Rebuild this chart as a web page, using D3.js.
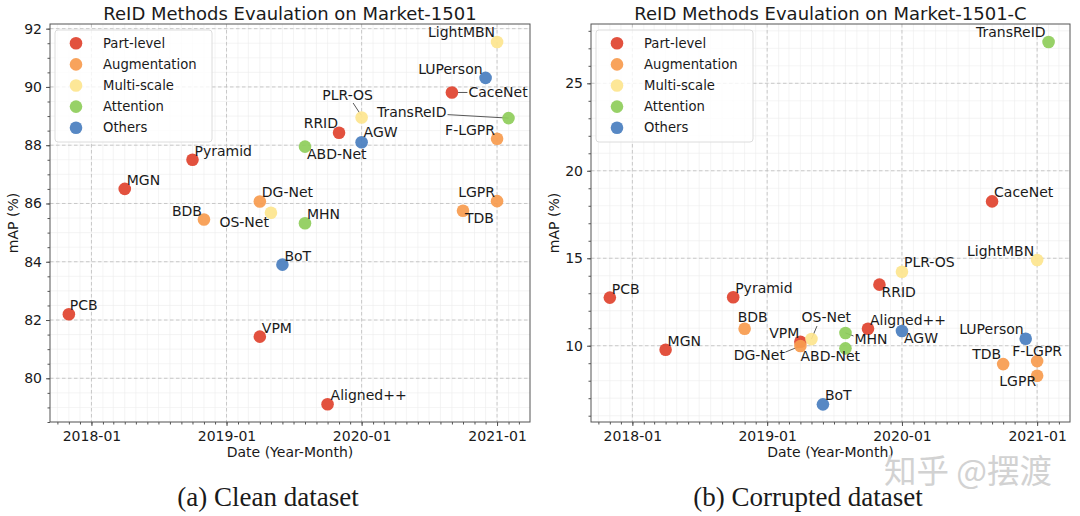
<!DOCTYPE html>
<html>
<head>
<meta charset="utf-8">
<script src="https://cdn.jsdelivr.net/npm/d3@7"></script>
<style>
  body { margin: 0; background: #fff; }
  svg text { font-family: "DejaVu Sans", sans-serif; fill: #1a1a1a; }
  .tick text { font-size: 14px; }
</style>
</head>
<body>
<svg id="chart" width="1080" height="516"></svg>
<script>
// data
const methods = ["PCB", "MGN", "Pyramid", "BDB", "VPM", "DG-Net", "OS-Net", "BoT", "MHN", "ABD-Net",
    "Aligned++", "RRID", "AGW", "PLR-OS", "CaceNet", "TDB", "LUPerson", "LightMBN", "F-LGPR", "LGPR", "TransReID"];
const releaseMonth = ["2017-11", "2018-04", "2018-10", "2018-11", "2019-04", "2019-04", "2019-05", "2019-06", "2019-08", "2019-08",
    "2019-10", "2019-11", "2020-01", "2020-01", "2020-09", "2020-10", "2020-12", "2021-01", "2021-01", "2021-01", "2021-02"];
const categories = ["Part-level", "Augmentation", "Multi-scale", "Attention", "Others"];
const methodCategory = ["Part-level", "Part-level", "Part-level", "Augmentation", "Part-level", "Augmentation", "Multi-scale", "Others", "Attention", "Attention",
    "Part-level", "Part-level", "Others", "Multi-scale", "Part-level", "Augmentation", "Others", "Multi-scale", "Augmentation", "Augmentation", "Attention"];
const mapClean = [82.2, 86.5, 87.5, 85.45, 81.43, 86.07, 85.68, 83.9, 85.32, 87.95,
    79.11, 88.43, 88.1, 88.95, 89.81, 85.75, 90.31, 91.54, 88.22, 86.08, 88.93];
const mapCorrupted = [12.75, 9.77, 12.77, 10.97, 10.23, 9.98, 10.38, 6.65, 10.73, 9.85,
    10.97, 13.49, 10.84, 14.23, 18.25, 8.95, 10.4, 14.9, 9.12, 8.28, 27.36];
const cleanTicks = [80, 82, 84, 86, 88, 90, 92];
const corruptedTicks = [10, 15, 20, 25];
const dateTicks = ["2018-01", "2019-01", "2020-01", "2021-01"];

const colors = ["#e0442f", "#f89c50", "#fde58f", "#8fcd5b", "#4a7fc0"];
const color = d3.scaleOrdinal().domain(categories).range(colors);
const parseMonth = d3.timeParse("%Y-%m");

// label placement (px offsets from the marker) : [dx, dy, anchor]
const labelsA = {
    "PCB": [1, -4, "start"], "BDB": [-2, -4, "end"], "OS-Net": [-2, 14, "end"], "ABD-Net": [2, 12.5, "start"],
    "RRID": [-1, -5, "end"], "AGW": [2, -5, "start"], "PLR-OS": [-14, -18, "middle"], "CaceNet": [16.5, 4.5, "start"],
    "TransReID": [-62, -1, "end"], "LightMBN": [-2, -5, "end"], "LUPerson": [-3, -4, "end"], "F-LGPR": [-2, -4, "end"],
    "LGPR": [-2, -4, "end"], "TDB": [2, 12, "start"], "Aligned++": [3, -4, "start"]
};
const leadersA = { "PLR-OS": [-8.5, -14.5, -1, -3], "CaceNet": [6, 0, 15.5, 0], "TransReID": [-61, -3.5, 0, 0] };
const labelsB = {
    "TransReID": [-3, -5, "end"], "LightMBN": [-3, -4, "end"], "PLR-OS": [2, -5, "start"], "RRID": [2, 12, "start"],
    "BDB": [-7, -7, "start"], "OS-Net": [-10, -17, "start"], "VPM": [-1, -3.5, "end"], "DG-Net": [-15.5, 14, "end"],
    "ABD-Net": [-45, 12.5, "start"], "MHN": [9, 11, "start"], "AGW": [2, 12.3, "start"], "LUPerson": [-2, -5, "end"],
    "TDB": [-2, -5, "end"], "F-LGPR": [-25, -5, "start"], "LGPR": [-1, 10.5, "end"]
};
const leadersB = { "OS-Net": [0, 0, 5.5, -13], "DG-Net": [-15, 6, 0, 0], "MHN": [0, 0, 8, 3] };

const svg = d3.select("#chart");

var drawPanel = function(p) {
    const top = 24, bottom = 422;
    const x = d3.scaleTime().domain([new Date(2017, 8, 11), new Date(2021, 2, 31)]).range([p.left, p.right]);
    const y = d3.scaleLinear().domain(p.yDomain).range([bottom, top]);
    const g = svg.append("g");

    // minor grid
    const months = d3.timeMonth.range(new Date(2017, 9, 1), new Date(2021, 3, 1));
    const minorY = d3.range(Math.ceil(p.yDomain[0] / p.minorStep) * p.minorStep, p.yDomain[1], p.minorStep);
    g.selectAll(".mgx").data(months).enter().append("line")
        .attr("x1", d => x(d)).attr("x2", d => x(d)).attr("y1", top).attr("y2", bottom)
        .attr("stroke", "#ececec").attr("stroke-width", 0.6);
    g.selectAll(".mgy").data(minorY).enter().append("line")
        .attr("x1", p.left).attr("x2", p.right).attr("y1", d => y(d)).attr("y2", d => y(d))
        .attr("stroke", "#ececec").attr("stroke-width", 0.6);
    // major grid
    g.selectAll(".gx").data(dateTicks.map(parseMonth)).enter().append("line")
        .attr("x1", d => x(d)).attr("x2", d => x(d)).attr("y1", top).attr("y2", bottom)
        .attr("stroke", "#bdbdbd").attr("stroke-width", 0.8).attr("stroke-dasharray", "3.5,2.5");
    g.selectAll(".gy").data(p.ticks).enter().append("line")
        .attr("x1", p.left).attr("x2", p.right).attr("y1", d => y(d)).attr("y2", d => y(d))
        .attr("stroke", "#bdbdbd").attr("stroke-width", 0.8).attr("stroke-dasharray", "3.5,2.5");

    // axes
    g.append("g").attr("transform", `translate(0,${bottom})`)
        .call(d3.axisBottom(x).tickValues(dateTicks.map(parseMonth)).tickFormat(d3.timeFormat("%Y-%m")).tickSize(4).tickPadding(5));
    g.append("g").attr("transform", `translate(0,${bottom})`)
        .call(d3.axisBottom(x).tickValues(months).tickFormat("").tickSize(2.5));
    g.append("g").attr("transform", `translate(${p.left},0)`)
        .call(d3.axisLeft(y).tickValues(p.ticks).tickSize(4).tickPadding(4));
    g.append("g").attr("transform", `translate(${p.left},0)`)
        .call(d3.axisLeft(y).tickValues(minorY).tickFormat("").tickSize(2.5));
    g.selectAll(".domain").remove();
    g.selectAll(".tick line").attr("stroke", "#555");
    g.selectAll(".tick text").attr("fill", "#1a1a1a");

    g.append("rect").attr("x", p.left).attr("y", top).attr("width", p.right - p.left).attr("height", bottom - top)
        .attr("fill", "none").attr("stroke", "#555").attr("stroke-width", 1);

    // points
    const pts = methods.map((m, i) => ({ name: m, date: parseMonth(releaseMonth[i]), v: p.values[i], cat: methodCategory[i] }));
    Object.keys(p.leaders).forEach(k => {
        const d = pts.find(q => q.name === k), l = p.leaders[k];
        g.append("line").attr("x1", x(d.date) + l[0]).attr("y1", y(d.v) + l[1])
            .attr("x2", x(d.date) + l[2]).attr("y2", y(d.v) + l[3])
            .attr("stroke", "#444").attr("stroke-width", 0.9);
    });
    g.selectAll(".pt").data(pts).enter().append("circle")
        .attr("cx", d => x(d.date)).attr("cy", d => y(d.v)).attr("r", 6.3)
        .attr("fill", d => color(d.cat)).attr("fill-opacity", 0.93);
    g.selectAll(".lbl").data(pts).enter().append("text")
        .attr("x", d => x(d.date) + (p.labels[d.name] || [2, -4])[0])
        .attr("y", d => y(d.v) + (p.labels[d.name] || [2, -4])[1])
        .attr("text-anchor", d => (p.labels[d.name] || [2, -4, "start"])[2])
        .style("font-size", "14px")
        .text(d => d.name);

    // titles
    const cx = (p.left + p.right) / 2;
    g.append("text").attr("x", cx).attr("y", 20).attr("text-anchor", "middle").style("font-size", "18px").text(p.title);
    g.append("text").attr("x", cx).attr("y", 457).attr("text-anchor", "middle").style("font-size", "14px").text("Date (Year-Month)");
    g.append("text").attr("transform", `translate(${p.left - 37},${(top + bottom) / 2}) rotate(-90)`)
        .attr("text-anchor", "middle").attr("dy", "0.35em").style("font-size", "14px").text("mAP (%)");
    g.append("text").attr("x", p.captionX).attr("y", 506).attr("text-anchor", "middle")
        .style("font-family", "'Liberation Serif', serif").style("font-size", "27px").text(p.caption);

    // legend
    const lg = g.append("g").attr("transform", `translate(${p.left + 5},30)`);
    lg.append("rect").attr("width", 157).attr("height", 112).attr("rx", 3)
        .attr("fill", "#fff").attr("fill-opacity", 0.8).attr("stroke", "#dcdcdc");
    categories.forEach((c, i) => {
        lg.append("circle").attr("cx", 21).attr("cy", 13.3 + i * 21.1).attr("r", 6.3).attr("fill", color(c)).attr("fill-opacity", 0.93);
        lg.append("text").attr("x", 48).attr("y", 13.3 + i * 21.1).attr("dy", "0.36em").style("font-size", "13.2px").text(c);
    });
};

drawPanel({ left: 50, right: 530, yDomain: [78.5, 92.16], ticks: cleanTicks, minorStep: 0.5, values: mapClean,
    labels: labelsA, leaders: leadersA, title: "ReID Methods Evaulation on Market-1501", caption: "(a) Clean dataset", captionX: 268 });
drawPanel({ left: 591, right: 1070, yDomain: [5.64, 28.39], ticks: corruptedTicks, minorStep: 1, values: mapCorrupted,
    labels: labelsB, leaders: leadersB, title: "ReID Methods Evaulation on Market-1501-C", caption: "(b) Corrupted dataset", captionX: 808 });

// watermark
svg.append("text").attr("x", 884).attr("y", 483)
    .style("font-family", "'Noto Sans CJK SC', sans-serif").style("font-size", "32.5px").style("fill", "#d2d2d2")
    .text("知乎 @摆渡");
</script>
</body>
</html>
